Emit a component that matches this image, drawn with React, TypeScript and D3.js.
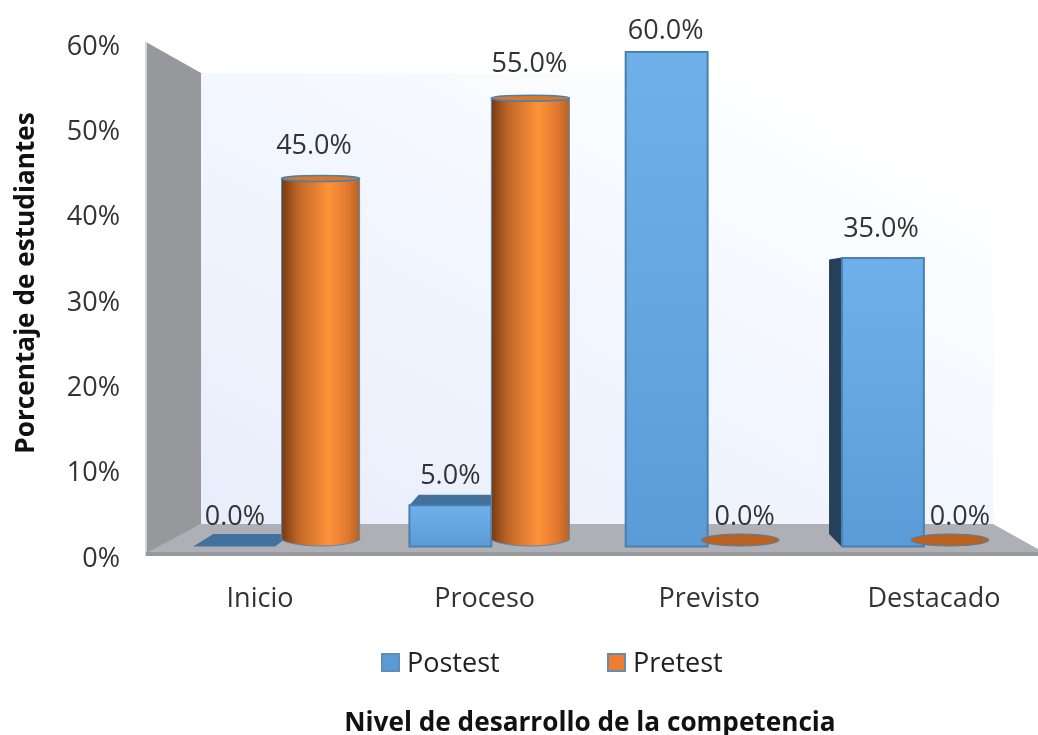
import React from "react";
import * as d3 from "d3";

const categories = ["Inicio", "Proceso", "Previsto", "Destacado"];
const seriesNames = ["Postest", "Pretest"];
const postest = [0, 5, 60, 35];
const pretest = [45, 55, 0, 0];
const yTicks = [0, 10, 20, 30, 40, 50, 60];
const yTitle = "Porcentaje de estudiantes";
const xTitle = "Nivel de desarrollo de la competencia";

const FONT = "'Open Sans','Noto Sans',sans-serif";
const VP = { x: 595, y: 295 };
const DEPTH = 0.05;

const band = d3.scaleBand<string>().domain(categories).range([167, 1032]).paddingInner(0.242).paddingOuter(0.121);
const inner = d3.scaleBand<string>().domain(seriesNames).range([0, band.bandwidth()]);
const catLabelX = d3.scalePoint<string>().domain(categories).range([260, 934]);
const valueLabelX = d3.scalePoint<string>().domain(categories).range([235, 881]);
const yAxis = d3.scaleLinear().domain([0, 60]).range([556, 44]);
const yBar = d3.scaleLinear().domain([0, 60]).range([546.5, 52]);
const yCyl = d3.scaleLinear().domain([0, 60]).range([540, 58]);

const back = (x: number, y: number, t = DEPTH): [number, number] => [x + (VP.x - x) * t, y + (VP.y - y) * t];
const poly = (pts: [number, number][]) => pts.map((p) => p.join(",")).join(" ");

function Bar({ cat, v }: { cat: string; v: number }) {
  const x0 = band(cat)! + inner("Postest")!;
  const x1 = x0 + inner.bandwidth();
  const y = yBar(v);
  const yb = yBar(0);
  const tl = back(x0, y);
  const tr = back(x1, y);
  const bl = back(x0, yb);
  const showTop = tl[1] < y - 0.5;
  const showSide = tl[0] < x0 - 2;
  return (
    <g>
      {showSide && <polygon points={poly([tl, [x0, y], [x0, yb], bl])} fill="#264059" stroke="#264059" strokeWidth={1} />}
      {showTop && <polygon points={poly([tl, tr, [x1, y], [x0, y]])} fill="#41719c" />}
      {v > 0 && (
        <rect x={x0} y={y} width={x1 - x0} height={yb - y} fill="url(#blueFace)" stroke="#4a7fae" strokeWidth={2} />
      )}
    </g>
  );
}

function Cylinder({ cat, v }: { cat: string; v: number }) {
  const cFront = band(cat)! + inner("Pretest")! + inner.bandwidth() / 2 - 4;
  const cx = back(cFront, 0, 0.03)[0];
  const rx = 39;
  const y = yCyl(v);
  const yb = yCyl(0);
  if (v === 0) {
    return <ellipse cx={cx} cy={yb} rx={rx} ry={6} fill="#bb6120" stroke="#4a7fae" strokeWidth={1} />;
  }
  const ry = 3;
  const d = d3.path();
  d.moveTo(cx - rx, y);
  d.lineTo(cx - rx, yb);
  d.bezierCurveTo(cx - rx * 0.6, yb + 8, cx + rx * 0.6, yb + 8, cx + rx, yb);
  d.lineTo(cx + rx, y);
  d.closePath();
  return (
    <g>
      <path d={d.toString()} fill="url(#cyl)" stroke="#5a8ab0" strokeWidth={1} />
      <ellipse cx={cx} cy={y} rx={rx} ry={ry} fill="#d9772b" stroke="#4a7fae" strokeWidth={1.5} />
    </g>
  );
}

export default function App() {
  const labels = categories.flatMap((c, i) => [
    { key: c + "a", x: valueLabelX(c)!, v: postest[i] },
    { key: c + "b", x: valueLabelX(c)! + 79, v: pretest[i] },
  ]);
  return (
    <svg width={1038} height={735} style={{ position: "absolute", left: 0, top: 0, background: "#fff", filter: "blur(0.5px)" }} fontFamily={FONT}>
      <defs>
        <linearGradient id="wall" x1="0" y1="1" x2="0.85" y2="0.1">
          <stop offset="0" stopColor="#e8edfb" />
          <stop offset="0.55" stopColor="#f2f6fe" />
          <stop offset="1" stopColor="#ffffff" />
        </linearGradient>
        <linearGradient id="blueFace" x1="0" y1="0" x2="0" y2="1">
          <stop offset="0" stopColor="#70b0ea" />
          <stop offset="1" stopColor="#5b9bd7" />
        </linearGradient>
        <linearGradient id="cyl" x1="0" y1="0" x2="1" y2="0">
          <stop offset="0" stopColor="#753a14" />
          <stop offset="0.2" stopColor="#bd6426" />
          <stop offset="0.6" stopColor="#ff933a" />
          <stop offset="0.85" stopColor="#e0782e" />
          <stop offset="1" stopColor="#b5622a" />
        </linearGradient>
      </defs>

      <rect x={201} y={73} width={792} height={452} fill="url(#wall)" />
      <polygon points={poly([[146, 42], [201, 73], [201, 524], [146, 556]])} fill="#96989b" />
      <line x1={146} y1={42} x2={146} y2={556} stroke="#d5d5d5" strokeWidth={2} />
      <polygon points={poly([[146, 553], [201, 524], [993, 524], [1038, 549], [1038, 553]])} fill="#aeb0b6" />
      <rect x={146} y={552} width={892} height={4} fill="#98999c" />

      {categories.map((c, i) => (
        <g key={c}>
          <Bar cat={c} v={postest[i]} />
          <Cylinder cat={c} v={pretest[i]} />
        </g>
      ))}

      <g fontSize={27} fill="#333">
        {yTicks.map((t) => (
          <text key={t} x={120} y={yAxis(t)} textAnchor="end" dominantBaseline="central">{t}%</text>
        ))}
        {labels.map((l) => (
          <text key={l.key} x={l.x} y={Math.max(28, yBar(l.v) - 32)} textAnchor="middle" dominantBaseline="central">{l.v.toFixed(1)}%</text>
        ))}
        {categories.map((c) => (
          <text key={c} x={catLabelX(c)!} y={596} textAnchor="middle" dominantBaseline="central">{c}</text>
        ))}
      </g>

      {seriesNames.map((s, i) => {
        const x = 381 + i * 226;
        return (
          <g key={s}>
            <rect x={x + 1} y={654} width={17} height={17} fill={i === 0 ? "#5b9bd5" : "#ed7d31"} stroke="#5f8db5" strokeWidth={2} />
            <text x={x + 26} y={661} fontSize={27} fill="#222" dominantBaseline="central">{s}</text>
          </g>
        );
      })}

      <text transform="translate(24,283) rotate(-90)" textAnchor="middle" dominantBaseline="central" fontSize={26.2} fontWeight={700} fill="#111">{yTitle}</text>
      <text x={590} y={721} textAnchor="middle" dominantBaseline="central" fontSize={26.2} fontWeight={700} fill="#111">{xTitle}</text>
    </svg>
  );
}
